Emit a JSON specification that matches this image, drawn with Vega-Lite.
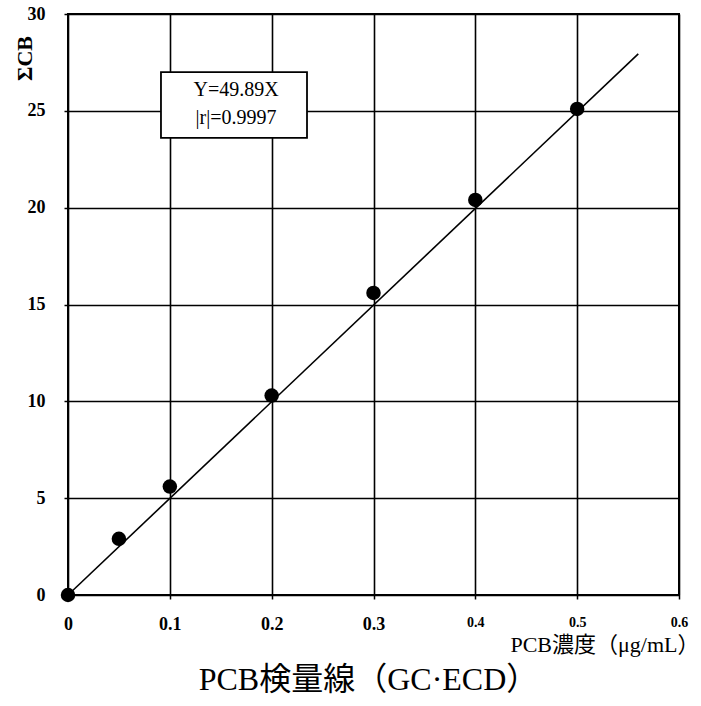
{
  "$schema": "https://vega.github.io/schema/vega-lite/v6.json",
  "autosize": {"type": "none"},
  "width": 611,
  "height": 581,
  "padding": {"left": 68, "top": 14, "right": 22, "bottom": 111},
  "background": "white",
  "config": {
    "view": {"stroke": "black", "strokeWidth": 2},
    "font": "Liberation Serif, Noto Sans CJK JP"
  },
  "title": {
    "text": "PCB検量線（GC·ECD）",
    "orient": "bottom",
    "anchor": "middle",
    "offset": 10,
    "font": "Liberation Serif, Noto Sans CJK JP",
    "fontSize": 32,
    "fontWeight": "normal",
    "color": "black",
    "dx": -5
  },
  "datasets": {
    "points": [
      {"x": 0, "y": 0},
      {"x": 0.05, "y": 2.9},
      {"x": 0.1, "y": 5.6},
      {"x": 0.2, "y": 10.3},
      {"x": 0.3, "y": 15.6},
      {"x": 0.4, "y": 20.4},
      {"x": 0.5, "y": 25.1}
    ],
    "fit": [
      {"x": 0, "y": 0},
      {"x": 0.56, "y": 27.94}
    ],
    "box": [
      {"x1": 0.0913, "x2": 0.2347, "y1": 23.6, "y2": 27.0}
    ],
    "labels": [
      {"x": 0.165, "y": 26.07, "t": "Y=49.89X"},
      {"x": 0.165, "y": 24.65, "t": "|r|=0.9997"}
    ]
  },
  "layer": [
    {
      "data": {"name": "fit"},
      "mark": {"type": "line", "color": "black", "strokeWidth": 1.6},
      "encoding": {
        "x": {
          "field": "x", "type": "quantitative",
          "scale": {"domain": [0, 0.6], "nice": false},
          "axis": {
            "values": [0, 0.1, 0.2, 0.3, 0.4, 0.5, 0.6],
            "format": "~g",
            "grid": true, "gridColor": "black", "gridWidth": 1.6, "gridOpacity": 1,
            "domain": false,
            "ticks": true, "tickColor": "black", "tickSize": 4, "tickWidth": 1.5,
            "labelFont": "Liberation Serif",
            "labelFontWeight": "bold",
            "labelFontSize": {"condition": {"test": "datum.value >= 0.35", "value": 14}, "value": 18},
            "labelColor": "black",
            "labelBaseline": "top",
            "labelPadding": 16,
            "labelFlush": false,
            "title": "PCB濃度（μg/mL）",
            "titleFont": "Liberation Serif, Noto Sans CJK JP",
            "titleFontSize": 22,
            "titleFontWeight": "normal",
            "titleColor": "black",
            "titleAnchor": "end",
            "titleAlign": "right",
            "titleBaseline": "alphabetic",
            "titleX": 631,
            "titleY": 56
          }
        },
        "y": {
          "field": "y", "type": "quantitative",
          "scale": {"domain": [0, 30], "nice": false},
          "axis": {
            "values": [0, 5, 10, 15, 20, 25, 30],
            "grid": true, "gridColor": "black", "gridWidth": 1.6, "gridOpacity": 1,
            "domain": false,
            "ticks": true, "tickColor": "black", "tickSize": 4, "tickWidth": 1.5,
            "labelFont": "Liberation Serif",
            "labelFontWeight": "bold",
            "labelFontSize": 18,
            "labelColor": "black",
            "labelPadding": 19,
            "labelFlush": false,
            "title": "ΣCB",
            "titleFont": "Liberation Serif",
            "titleFontSize": 22,
            "titleFontWeight": "bold",
            "titleColor": "black",
            "titleAngle": -90,
            "titleAlign": "center",
            "titleBaseline": "middle",
            "titleX": -44,
            "titleY": 44
          }
        }
      }
    },
    {
      "data": {"name": "points"},
      "mark": {"type": "point", "filled": true, "color": "black", "opacity": 1, "size": 210},
      "encoding": {
        "x": {"field": "x", "type": "quantitative"},
        "y": {"field": "y", "type": "quantitative"}
      }
    },
    {
      "data": {"name": "box"},
      "mark": {"type": "rect", "fill": "white", "stroke": "black", "strokeWidth": 1.8},
      "encoding": {
        "x": {"field": "x1", "type": "quantitative"},
        "x2": {"field": "x2"},
        "y": {"field": "y1", "type": "quantitative"},
        "y2": {"field": "y2"}
      }
    },
    {
      "data": {"name": "labels"},
      "mark": {"type": "text", "font": "Liberation Serif", "fontSize": 20, "fontWeight": "normal", "color": "black", "align": "center", "baseline": "middle"},
      "encoding": {
        "x": {"field": "x", "type": "quantitative"},
        "y": {"field": "y", "type": "quantitative"},
        "text": {"field": "t"}
      }
    }
  ]
}
